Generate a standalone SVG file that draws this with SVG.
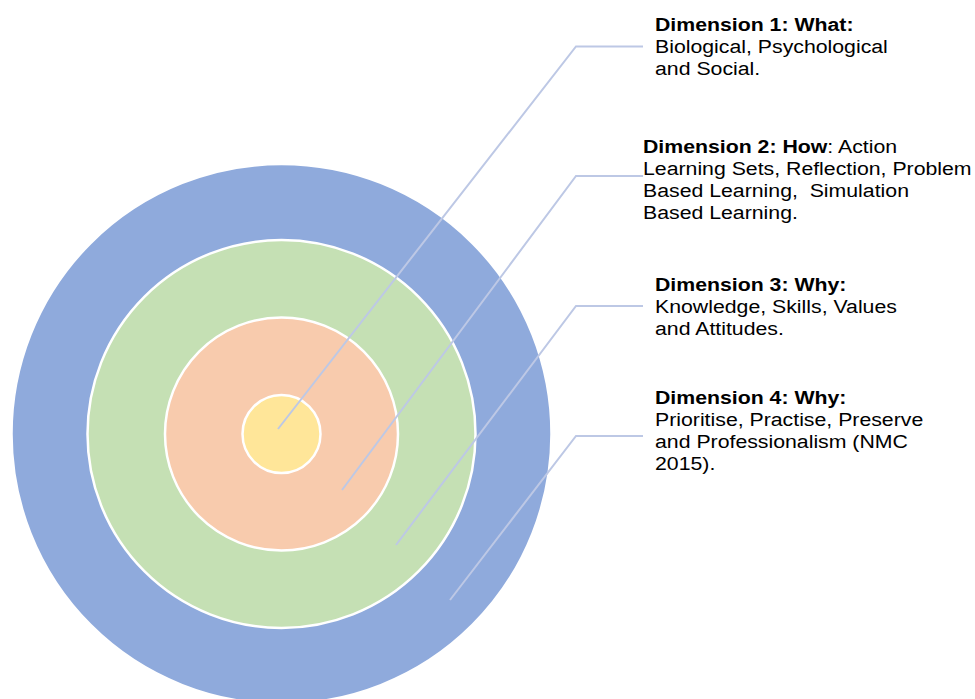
<svg xmlns="http://www.w3.org/2000/svg" width="975" height="699" viewBox="0 0 975 699">
<style>
.ring{stroke:#FFFFFF;stroke-width:2.5}
.conn{fill:none;stroke:#BDC8E5;stroke-width:2}
.t{font-family:"Liberation Sans",Arial,sans-serif;font-size:19px;fill:#000000}
.b{font-weight:bold}
</style>
<rect width="975" height="699" fill="#FFFFFF"/>
<g id="ring4"><circle cx="281.5" cy="434" r="270" fill="#8FAADC" class="ring"/></g>
<g id="ring3"><circle cx="281.5" cy="434" r="194" fill="#C5E0B4" class="ring"/></g>
<g id="ring2"><circle cx="281.5" cy="434" r="116.5" fill="#F8CBAD" class="ring"/></g>
<g id="ring1"><circle cx="281.5" cy="434" r="39" fill="#FFE699" class="ring"/></g>
<g id="connectors">
<polyline class="conn" points="278,429 576,46.5 643,46.5"/>
<polyline class="conn" points="342,490 576,176 643,176"/>
<polyline class="conn" points="396,545 576,306 643,306"/>
<polyline class="conn" points="450,600 576,436 643,436"/>
</g>
<g id="label1" class="t" transform="translate(655 0) scale(1.12 1)">
<text x="0" y="31"><tspan class="b">Dimension 1: What:</tspan></text>
<text x="0" y="53">Biological, Psychological</text>
<text x="0" y="75">and Social.</text>
</g>
<g id="label2" class="t" transform="translate(643 0) scale(1.12 1)">
<text x="0" y="153"><tspan class="b">Dimension 2: How</tspan>: Action</text>
<text x="0" y="175">Learning Sets, Reflection, Problem</text>
<text x="0" y="197" xml:space="preserve">Based Learning,  Simulation</text>
<text x="0" y="219">Based Learning.</text>
</g>
<g id="label3" class="t" transform="translate(655 0) scale(1.12 1)">
<text x="0" y="291"><tspan class="b">Dimension 3: Why:</tspan></text>
<text x="0" y="313">Knowledge, Skills, Values</text>
<text x="0" y="335">and Attitudes.</text>
</g>
<g id="label4" class="t" transform="translate(655 0) scale(1.12 1)">
<text x="0" y="404"><tspan class="b">Dimension 4: Why:</tspan></text>
<text x="0" y="426">Prioritise, Practise, Preserve</text>
<text x="0" y="448">and Professionalism (NMC</text>
<text x="0" y="470">2015).</text>
</g>
</svg>
